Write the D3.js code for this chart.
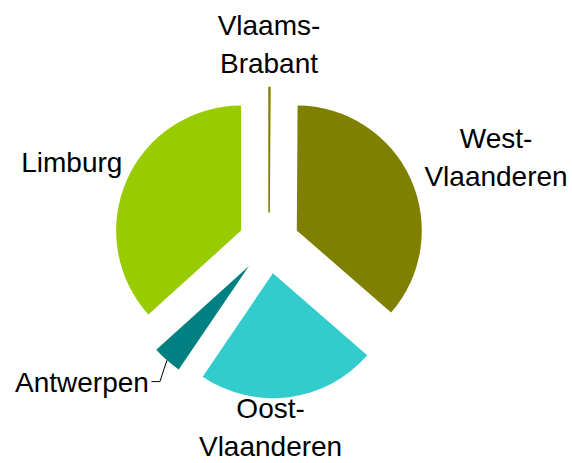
<!DOCTYPE html>
<html>
<head>
<meta charset="utf-8">
<script src="https://cdn.jsdelivr.net/npm/d3@7"></script>
<style>
body { margin: 0; background: #fff; }
text { font-family: "Liberation Sans", Arial, sans-serif; font-size: 28px; fill: #000; }
</style>
</head>
<body>
<div id="chart"></div>
<script>
// data, clockwise from 12 o'clock
var provinces = ["Vlaams-Brabant", "West-Vlaanderen", "Oost-Vlaanderen", "Antwerpen", "Limburg"];
var shares = [0.1, 36.3, 23.1, 3.8, 36.7];
var labelLines = [["Vlaams-", "Brabant"], ["West-", "Vlaanderen"], ["Oost-", "Vlaanderen"], ["Antwerpen"], ["Limburg"]];

// styling / layout
var colors = ["#808000", "#808000", "#33cccc", "#008080", "#99cc00"];
var width = 572, height = 463;
var cx = 269, cy = 243, radius = 125, explode = 30.5;
var fontSize = 28, lineHeight = 38;
// label placement: [angle (deg, clockwise from top), distance from pie centre]
var labelPolar = [[0, 199], [69.3, 242.7], [179.5, 183.5], [220.9, 183.4], [292.4, 213.3]];
var leaderLabel = 3; // Antwerpen gets a leader line

var svg = d3.select("#chart").append("svg")
    .attr("width", width)
    .attr("height", height);

var pie = d3.pie().sort(null).value(function(d){ return d; });
var arcs = pie(shares);
var arc = d3.arc().innerRadius(0).outerRadius(radius);

function polar(angle, dist){
    return [cx + dist * Math.sin(angle), cy - dist * Math.cos(angle)];
}

var g = svg.append("g");
g.selectAll("path").data(arcs).enter().append("path")
    .attr("d", arc)
    .attr("transform", function(d){
        var p = polar((d.startAngle + d.endAngle) / 2, explode);
        return "translate(" + p[0] + "," + p[1] + ")";
    })
    .attr("fill", function(d, i){ return colors[i]; })
    .attr("stroke", function(d, i){ return d.endAngle - d.startAngle < 0.02 ? colors[i] : "none"; })
    .attr("stroke-width", 1.6);

// labels
labelLines.forEach(function(lines, i){
    var lp = polar(labelPolar[i][0] * Math.PI / 180, labelPolar[i][1]);
    if (i == leaderLabel){
        var mid = (arcs[i].startAngle + arcs[i].endAngle) / 2;
        var start = polar(mid, explode + radius);
        svg.append("polyline")
            .attr("points", [start, [lp[0] + 11, lp[1]], [lp[0] + 2.5, lp[1]]].map(function(p){ return p.join(","); }).join(" "))
            .attr("fill", "none")
            .attr("stroke", "#000")
            .attr("stroke-width", 1);
        svg.append("text")
            .attr("x", lp[0])
            .attr("y", lp[1] + 0.36 * fontSize)
            .attr("text-anchor", "end")
            .text(lines[0]);
        return;
    }
    var t = svg.append("text").attr("text-anchor", "middle");
    var y0 = lp[1] - (lines.length - 1) * lineHeight / 2 + 0.36 * fontSize;
    lines.forEach(function(line, k){
        t.append("tspan")
            .attr("x", lp[0])
            .attr("y", y0 + k * lineHeight)
            .text(line);
    });
});
</script>
</body>
</html>
